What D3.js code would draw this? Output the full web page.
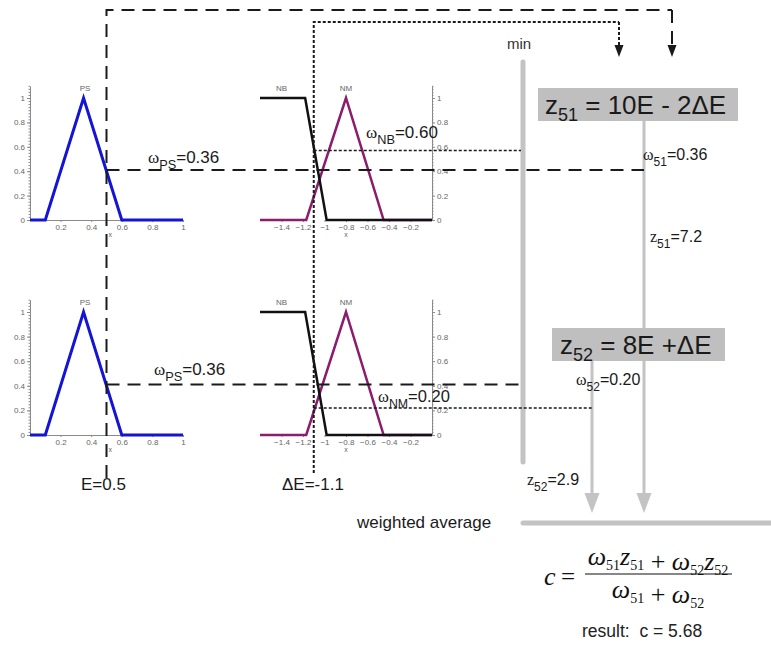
<!DOCTYPE html>
<html><head><meta charset="utf-8">
<script src="https://cdn.jsdelivr.net/npm/d3@7"></script>
<style>body{margin:0;background:#fff}svg{display:block}</style>
</head><body><svg id="c" width="771" height="648"></svg>
<script>
// ---------- data ----------
const E_VALUE = 0.5;
const DE_VALUE = -1.1;
const eTickValues = [0.2, 0.4, 0.6, 0.8, 1];
const deTickValues = [-1.4, -1.2, -1, -0.8, -0.6, -0.4, -0.2];
const muTickValues = [0, 0.2, 0.4, 0.6, 0.8, 1];
const psPoints = [[0, 0], [0.1, 0], [0.35, 1], [0.6, 0], [1, 0]];
const nbPoints = [[-1.6, 1], [-1.18, 1], [-0.98, 0], [0, 0]];
const nmPoints = [[-1.6, 0], [-1.17, 0], [-0.8, 1], [-0.45, 0], [0, 0]];
const psCutLevels = [0.41, 0.41];      // drawn cut height of PS, rule 51 / 52
const deCutLevels = [0.57, 0.22];      // drawn cut height of NB / NM
const psWeightLabels = ["0.36", "0.36"];
const deSetNames = ["NB", "NM"];
const deWeightLabels = ["0.60", "0.20"];
const ruleIds = ["51", "52"];
const ruleBodies = [" = 10E - 2\u0394E", " = 8E +\u0394E"];
const ruleWeights = ["0.36", "0.20"];
const ruleOutputs = ["7.2", "2.9"];
const resultValue = "5.68";

// ---------- layout ----------
const svg = d3.select("#c");
const SANS = "'Liberation Sans', Arial, sans-serif";
const SERIF = "'Liberation Serif', 'Times New Roman', serif";
const rows = [{y0: 220, y1: 98}, {y0: 435, y1: 312}];
const xE = d3.scaleLinear().domain([0, 1]).range([30, 183]);
const xD = d3.scaleLinear().domain([-1.6, 0]).range([260, 432]);
const fmt = d3.format("~g");

function styleAxis(g) {
  g.selectAll("path,line").attr("stroke", "#8a8a8a").attr("stroke-width", 1);
  g.selectAll("text").attr("fill", "#666").attr("font-size", 8).attr("font-family", SANS);
}

rows.forEach((r, i) => {
  const y = d3.scaleLinear().domain([0, 1.1]).range([r.y0, r.y0 - 1.1 * (r.y0 - r.y1)]);
  const minor = d3.range(0, 1.1001, 0.025);
  // ---- left chart (E, PS) ----
  const gl = svg.append("g");
  gl.append("g").attr("transform", `translate(${xE(0)},0)`)
    .call(d3.axisLeft(y).tickValues(minor).tickSize(1.5).tickFormat("").tickSizeOuter(0)).call(styleAxis);
  gl.append("g").attr("transform", `translate(${xE(0)},0)`)
    .call(d3.axisLeft(y).tickValues(muTickValues).tickSize(3).tickPadding(2).tickFormat(fmt).tickSizeOuter(0))
    .call(styleAxis).select(".domain").remove();
  gl.append("g").attr("transform", `translate(0,${r.y0})`)
    .call(d3.axisBottom(xE).tickValues(eTickValues).tickSize(2).tickPadding(2).tickFormat(fmt).tickSizeOuter(0))
    .call(styleAxis);
  gl.append("text").attr("x", xE(0.5) + 2).attr("y", r.y0 + 17).attr("font-size", 7)
    .attr("fill", "#666").attr("font-family", SANS).text("x");
  gl.append("text").attr("x", xE(0.36)).attr("y", r.y1 - 7).attr("text-anchor", "middle")
    .attr("font-size", 8).attr("fill", "#666").attr("font-family", SANS).text("PS");
  const line = d3.line().x(d => xE(d[0])).y(d => y(d[1]));
  gl.append("path").attr("d", line(psPoints)).attr("fill", "none")
    .attr("stroke", "#1414d4").attr("stroke-width", 3).attr("stroke-linejoin", "miter");

  // ---- middle chart (dE, NB/NM) ----
  const gm = svg.append("g");
  gm.append("g").attr("transform", `translate(${xD(0)},0)`)
    .call(d3.axisRight(y).tickValues(minor).tickSize(1.5).tickFormat("").tickSizeOuter(0)).call(styleAxis);
  gm.append("g").attr("transform", `translate(${xD(0)},0)`)
    .call(d3.axisRight(y).tickValues(muTickValues).tickSize(3).tickPadding(2).tickFormat(fmt).tickSizeOuter(0))
    .call(styleAxis).select(".domain").remove();
  gm.append("g").attr("transform", `translate(0,${r.y0})`)
    .call(d3.axisBottom(xD).tickValues(deTickValues).tickSize(2).tickPadding(2).tickFormat(fmt).tickSizeOuter(0))
    .call(styleAxis).select(".domain").remove();
  gm.append("text").attr("x", xD(-0.8)).attr("y", r.y0 + 17).attr("text-anchor", "middle").attr("font-size", 7)
    .attr("fill", "#666").attr("font-family", SANS).text("x");
  gm.append("text").attr("x", xD(-1.4)).attr("y", r.y1 - 7).attr("text-anchor", "middle")
    .attr("font-size", 8).attr("fill", "#666").attr("font-family", SANS).text("NB");
  gm.append("text").attr("x", xD(-0.8)).attr("y", r.y1 - 7).attr("text-anchor", "middle")
    .attr("font-size", 8).attr("fill", "#666").attr("font-family", SANS).text("NM");
  const lineD = d3.line().x(d => xD(d[0])).y(d => y(d[1]));
  gm.append("path").attr("d", lineD(nmPoints)).attr("fill", "none")
    .attr("stroke", "#8c1c6c").attr("stroke-width", 2.5);
  gm.append("path").attr("d", lineD(nbPoints)).attr("fill", "none")
    .attr("stroke", "#111").attr("stroke-width", 2.5);
  r.y = y;
});

// ---------- right side (gray) ----------
const GRAY = "#c3c3c3";
const gr = svg.append("g");
function arrowDown(g, x, yTop, yTip, color, w, headW, headH, dash) {
  g.append("line").attr("x1", x).attr("x2", x).attr("y1", yTop).attr("y2", yTip - headH + 1)
    .attr("stroke", color).attr("stroke-width", w).attr("stroke-dasharray", dash || null);
  g.append("path").attr("d", `M${x - headW / 2},${yTip - headH}L${x + headW / 2},${yTip - headH}L${x},${yTip}Z`)
    .attr("fill", color);
}
gr.append("line").attr("x1", 523).attr("x2", 523).attr("y1", 62).attr("y2", 462)
  .attr("stroke", GRAY).attr("stroke-width", 5).attr("stroke-linecap", "round");
gr.append("text").attr("x", 519).attr("y", 49).attr("text-anchor", "middle")
  .attr("font-family", SANS).attr("font-size", 15).attr("fill", "#333").text("min");
arrowDown(gr, 644, 121, 513, GRAY, 3, 15, 20);
arrowDown(gr, 592, 361, 513, GRAY, 3, 15, 20);
gr.append("line").attr("x1", 523).attr("x2", 771).attr("y1", 523).attr("y2", 523)
  .attr("stroke", GRAY).attr("stroke-width", 5).attr("stroke-linecap", "round");

const boxes = [{x: 538, y: 88, w: 200, h: 33, tx: 545, ty: 114}, {x: 552, y: 328, w: 173, h: 33, tx: 560, ty: 354}];
boxes.forEach((b, i) => {
  gr.append("rect").attr("x", b.x).attr("y", b.y).attr("width", b.w).attr("height", b.h).attr("fill", "#bfbfbf");
  const t = gr.append("text").attr("x", b.tx).attr("y", b.ty).attr("font-family", SANS)
    .attr("font-size", 26).attr("fill", "#1a1a1a");
  t.append("tspan").text("z");
  t.append("tspan").attr("dy", 7).attr("font-size", 18).text(ruleIds[i]);
  t.append("tspan").attr("dy", -7).text(ruleBodies[i]);
});

function wLabel(g, x, y, sub, val, size, omegaPrefix) {
  const t = g.append("text").attr("x", x).attr("y", y).attr("font-family", SANS)
    .attr("font-size", size).attr("fill", "#1a1a1a");
  t.append("tspan").attr("font-family", SERIF).text(omegaPrefix);
  t.append("tspan").attr("dy", size * 0.35).attr("font-size", size * 0.75).text(sub);
  t.append("tspan").attr("dy", -size * 0.35).text("=" + val);
}
wLabel(gr, 643, 160, ruleIds[0], ruleWeights[0], 16, "\u03c9");
wLabel(gr, 650, 242, ruleIds[0], ruleOutputs[0], 16, "z");
wLabel(gr, 576, 385, ruleIds[1], ruleWeights[1], 16, "\u03c9");
wLabel(gr, 527, 485, ruleIds[1], ruleOutputs[1], 16, "z");

// ---------- dashed / dotted connections ----------
const DASH = "13,8", DOT = "3,2";
const ink = "#1a1a1a";
const gx = svg.append("g");
const xe = xE(E_VALUE), xd = xD(DE_VALUE);
gx.append("path").attr("d", `M${xe},478V10H672`).attr("fill", "none").attr("stroke", ink)
  .attr("stroke-width", 2).attr("stroke-dasharray", DASH);
arrowDown(gx, 672, 10, 57, ink, 2, 9, 12, DASH);
gx.append("path").attr("d", `M${xd},473V22H619`).attr("fill", "none").attr("stroke", ink)
  .attr("stroke-width", 2).attr("stroke-dasharray", DOT);
arrowDown(gx, 619, 22, 57, ink, 2, 9, 12, DOT);

// row 1
gx.append("line").attr("x1", xe).attr("x2", 644).attr("y1", rows[0].y(psCutLevels[0])).attr("y2", rows[0].y(psCutLevels[0]))
  .attr("stroke", ink).attr("stroke-width", 2).attr("stroke-dasharray", DASH);
gx.append("line").attr("x1", xd).attr("x2", 521).attr("y1", rows[0].y(deCutLevels[0])).attr("y2", rows[0].y(deCutLevels[0]))
  .attr("stroke", ink).attr("stroke-width", 1.5).attr("stroke-dasharray", DOT);
// row 2
gx.append("line").attr("x1", xe).attr("x2", 521).attr("y1", rows[1].y(psCutLevels[1])).attr("y2", rows[1].y(psCutLevels[1]))
  .attr("stroke", ink).attr("stroke-width", 2).attr("stroke-dasharray", DASH);
gx.append("line").attr("x1", xd).attr("x2", 592).attr("y1", rows[1].y(deCutLevels[1])).attr("y2", rows[1].y(deCutLevels[1]))
  .attr("stroke", ink).attr("stroke-width", 1.5).attr("stroke-dasharray", DOT);

wLabel(gx, 148, 163, "PS", psWeightLabels[0], 17, "\u03c9");
wLabel(gx, 154, 375, "PS", psWeightLabels[1], 17, "\u03c9");
wLabel(gx, 366, 138, deSetNames[0], deWeightLabels[0], 17, "\u03c9");
wLabel(gx, 378, 402, deSetNames[1], deWeightLabels[1], 16.5, "\u03c9");

// bottom labels
gx.append("text").attr("x", 81).attr("y", 490).attr("font-family", SANS).attr("font-size", 17)
  .attr("fill", "#1a1a1a").text("E=" + E_VALUE);
gx.append("text").attr("x", 282).attr("y", 490).attr("font-family", SANS).attr("font-size", 17)
  .attr("fill", "#1a1a1a").text("\u0394E=" + DE_VALUE);
gx.append("text").attr("x", 357).attr("y", 528).attr("font-family", SANS).attr("font-size", 17)
  .attr("fill", "#1a1a1a").text("weighted average");

// ---------- formula ----------
const gf = svg.append("g").attr("font-family", SERIF).attr("font-style", "italic").attr("fill", "#111");
gf.append("text").attr("x", 544).attr("y", 585).attr("font-size", 26).text("c");
gf.append("text").attr("x", 561).attr("y", 585).attr("font-size", 25).attr("font-style", "normal").text("=");
function omegaZ(t, id, withZ) {
  t.append("tspan").text("\u03c9");
  t.append("tspan").attr("dy", 5).attr("font-size", 14).attr("font-style", "normal").text(id);
  if (withZ) {
    t.append("tspan").attr("dy", -5).text("z");
    t.append("tspan").attr("dy", 5).attr("font-size", 14).attr("font-style", "normal").text(id);
  }
  t.append("tspan").attr("dy", -5).text("");
}
const num = gf.append("text").attr("x", 658).attr("y", 565).attr("font-size", 26).attr("text-anchor", "middle");
omegaZ(num, ruleIds[0], true);
num.append("tspan").attr("font-style", "normal").text(" + ");
omegaZ(num, ruleIds[1], true);
gf.append("line").attr("x1", 585).attr("x2", 732).attr("y1", 574).attr("y2", 574).attr("stroke", "#111").attr("stroke-width", 1.2);
const den = gf.append("text").attr("x", 658).attr("y", 598).attr("font-size", 26).attr("text-anchor", "middle");
omegaZ(den, ruleIds[0], false);
den.append("tspan").attr("font-style", "normal").text(" + ");
omegaZ(den, ruleIds[1], false);
svg.append("text").attr("x", 582).attr("y", 637).attr("font-family", SANS).attr("font-size", 17.5)
  .attr("fill", "#222").text("result:  c = " + resultValue).attr("xml:space", "preserve").style("white-space", "pre");
</script></body></html>
